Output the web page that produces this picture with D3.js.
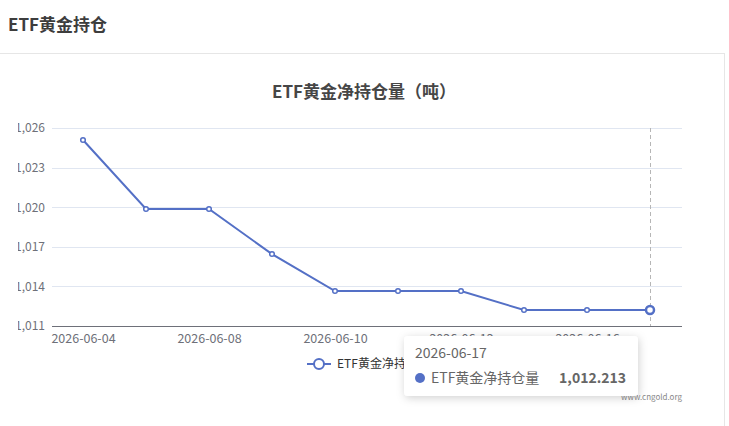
<!DOCTYPE html>
<html><head><meta charset="utf-8">
<script src="https://cdn.jsdelivr.net/npm/d3@7/dist/d3.min.js"></script>
<style>
html,body{margin:0;padding:0;background:#fff;}
body{width:729px;height:426px;overflow:hidden;font-family:"Noto Sans CJK SC","Noto Sans",sans-serif;}
</style></head>
<body>
<svg id="c" width="729" height="426"></svg>
<script>
const dates = ["2026-06-04","2026-06-05","2026-06-08","2026-06-09","2026-06-10","2026-06-11","2026-06-12","2026-06-15","2026-06-16","2026-06-17"];
const holdings = [1025.09, 1019.86, 1019.86, 1016.45, 1013.65, 1013.65, 1013.65, 1012.213, 1012.213, 1012.213];
const yTicks = [1011, 1014, 1017, 1020, 1023, 1026];
const seriesName = "ETF黄金净持仓量";
const pageTitle = "ETF黄金持仓";
const chartTitle = "ETF黄金净持仓量（吨）";
const hoverIndex = 9;

(function(){
const svg = d3.select("#c");
const font = '"Noto Sans CJK SC","Noto Sans",sans-serif';
const blue = "#5470c6";

svg.append("text").attr("x", 8).attr("y", 31).attr("font-size", 17).attr("font-weight", "bold")
  .attr("fill", "#3d3d3d").attr("font-family", font).text(pageTitle);
svg.append("line").attr("x1", 0).attr("x2", 725).attr("y1", 53.5).attr("y2", 53.5).attr("stroke", "#e6e6e6");
svg.append("line").attr("x1", 724.5).attr("x2", 724.5).attr("y1", 53).attr("y2", 426).attr("stroke", "#e6e6e6");

const defs = svg.append("defs");
defs.append("clipPath").attr("id", "clip").append("rect")
  .attr("x", 18).attr("y", 54).attr("width", 706).attr("height", 372);
const g = svg.append("g").attr("clip-path", "url(#clip)");

g.append("text").attr("x", 364).attr("y", 98).attr("text-anchor", "middle").attr("font-size", 17)
  .attr("font-weight", "bold").attr("fill", "#464646").attr("font-family", font).text(chartTitle);

const pLeft = 52, pRight = 682, pTop = 128, pBottom = 326;
const x = d3.scalePoint().domain(dates).range([83, 650]);
const y = d3.scaleLinear().domain([1011, 1026]).range([pBottom, pTop]);

g.append("g").selectAll("line").data(yTicks.filter(t => t !== 1011)).join("line")
  .attr("x1", pLeft).attr("x2", pRight).attr("y1", d => Math.round(y(d)) + 0.5).attr("y2", d => Math.round(y(d)) + 0.5)
  .attr("stroke", "#e0e6f1");

const yAxis = d3.axisLeft(y).tickValues(yTicks).tickSize(0).tickPadding(0).tickFormat(d3.format(",d"));
const ya = g.append("g").attr("transform", `translate(${pLeft - 7},0)`).call(yAxis);
ya.select(".domain").remove();
ya.selectAll("text").attr("fill", "#6e7079").attr("font-size", 12).attr("font-family", font);

const xAxis = d3.axisBottom(x).tickSize(0).tickPadding(8)
  .tickFormat((d, i) => i % 2 === 0 ? d : "");
const xa = g.append("g").attr("transform", `translate(0,${pBottom})`).call(xAxis);
xa.select(".domain").remove();
xa.selectAll("text").attr("fill", "#6e7079").attr("font-size", 12.5).attr("font-family", font);
g.append("line").attr("x1", pLeft).attr("x2", pRight).attr("y1", pBottom + 0.5).attr("y2", pBottom + 0.5)
  .attr("stroke", "#6e7079");

g.append("line").attr("x1", x(dates[hoverIndex]) + 0.5).attr("x2", x(dates[hoverIndex]) + 0.5)
  .attr("y1", pTop).attr("y2", pBottom).attr("stroke", "#b6b6b6").attr("stroke-dasharray", "4,3");

const line = d3.line().x(d => x(d[0])).y(d => y(d[1]));
const pts = dates.map((d, i) => [d, holdings[i]]);
g.append("path").datum(pts).attr("d", line).attr("fill", "none").attr("stroke", blue).attr("stroke-width", 2);
g.append("g").selectAll("circle").data(pts).join("circle")
  .attr("cx", d => x(d[0])).attr("cy", d => y(d[1]))
  .attr("r", (d, i) => i === hoverIndex ? 4 : 2.3)
  .attr("fill", "#fff").attr("stroke", blue).attr("stroke-width", (d, i) => i === hoverIndex ? 2.5 : 1.5);

const lg = g.append("g").attr("transform", "translate(307,364)");
lg.append("line").attr("x1", 0).attr("x2", 24).attr("y1", 0).attr("y2", 0).attr("stroke", blue).attr("stroke-width", 2);
lg.append("circle").attr("cx", 12).attr("cy", 0).attr("r", 5).attr("fill", "#fff").attr("stroke", blue).attr("stroke-width", 2);
lg.append("text").attr("x", 30).attr("y", 0).attr("dy", "0.35em").attr("font-size", 12).attr("fill", "#333")
  .attr("font-family", font).text(seriesName);

g.append("text").attr("x", 682).attr("y", 400).attr("text-anchor", "end").attr("font-size", 8)
  .attr("fill", "#888").attr("font-family", font).text("www.cngold.org");

const tf = defs.append("filter").attr("id", "sh").attr("x", "-20%").attr("y", "-30%").attr("width", "140%").attr("height", "160%");
tf.append("feDropShadow").attr("dx", 1).attr("dy", 2).attr("stdDeviation", 4).attr("flood-color", "#000").attr("flood-opacity", 0.18);
const tt = svg.append("g").attr("transform", "translate(404,336)");
tt.append("rect").attr("width", 234).attr("height", 60).attr("rx", 4).attr("fill", "#fff").attr("filter", "url(#sh)");
tt.append("text").attr("x", 11).attr("y", 22).attr("font-size", 14).attr("fill", "#666").attr("font-family", font).text(dates[hoverIndex]);
tt.append("circle").attr("cx", 16).attr("cy", 42).attr("r", 5).attr("fill", blue);
tt.append("text").attr("x", 27).attr("y", 47).attr("font-size", 14).attr("fill", "#666").attr("font-family", font).text(seriesName);
tt.append("text").attr("x", 222).attr("y", 47).attr("text-anchor", "end").attr("font-size", 14).attr("font-weight", "bold")
  .attr("fill", "#666").attr("font-family", font).text(d3.format(",.3f")(holdings[hoverIndex]));
})();
</script>
</body></html>
